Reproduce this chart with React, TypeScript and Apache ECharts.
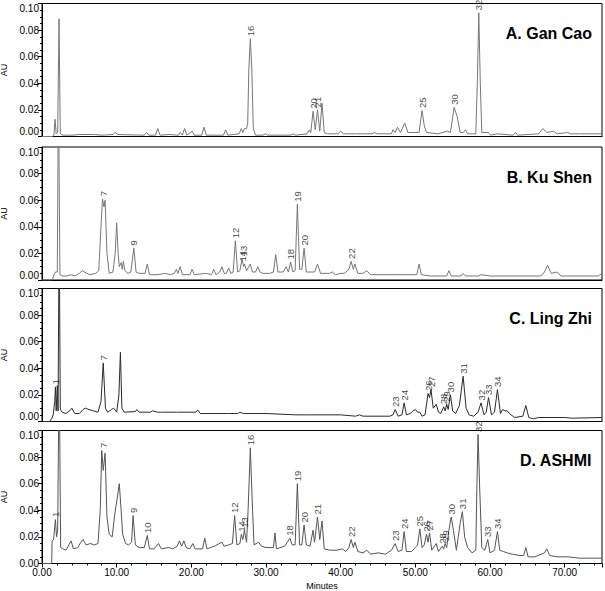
import React, { useEffect, useRef } from "react";
import * as echarts from "echarts";

// ---- Data (time in minutes, absorbance in AU) ----
const traceA: number[][] = [
  [0, 0], [1.4, 0], [1.6, 0.001], [1.75, 0.013], [1.9, 0.002], [2.1, 0.003], [2.28, 0.0885], [2.45, 0.002], [2.8, 0.001], [4, 0.001], [5, 0.0015], [7, 0.0015], [8, 0.001], [9.5, 0.0015], [9.8, 0.003], [10.2, 0.0015],
  [13.7, 0.001], [14.0, 0.003], [14.3, 0.001], [15.2, 0.001], [15.5, 0.006], [15.8, 0.001], [17, 0.0015], [18.3, 0.001], [18.5, 0.003], [18.8, 0.001], [19.1, 0.006], [19.4, 0.001], [20.1, 0.004], [20.4, 0.001],
  [21.4, 0.001], [21.7, 0.007], [22, 0.001], [24.3, 0.001], [24.6, 0.005], [24.9, 0.001], [26.4, 0.002], [26.7, 0.006], [26.9, 0.003], [27.1, 0.006], [27.4, 0.006], [27.55, 0.01], [27.7, 0.05], [27.9, 0.0735], [28.1, 0.05], [28.3, 0.006], [28.6, 0.001],
  [29.6, 0.001], [29.9, 0.002], [30.2, 0.001], [33.3, 0.001], [33.6, 0.002], [34, 0.001], [35.5, 0.002], [35.8, 0.005], [36.0, 0.003], [36.3, 0.019], [36.6, 0.005], [36.9, 0.02], [37.2, 0.004], [37.5, 0.025], [37.8, 0.003], [38.2, 0.002],
  [39, 0.002], [39.7, 0.002], [40.0, 0.004], [40.4, 0.002], [42, 0.002], [44.2, 0.002], [44.5, 0.003], [44.9, 0.002], [46, 0.002], [46.8, 0.002], [47.0, 0.005], [47.3, 0.003], [47.6, 0.007], [48, 0.003], [48.6, 0.01], [49, 0.003], [49.3, 0.003],
  [50.5, 0.003], [50.9, 0.0195], [51.2, 0.008], [51.5, 0.003], [53, 0.002], [54.3, 0.004], [54.7, 0.003], [55.2, 0.022], [55.6, 0.015], [56, 0.003], [56.4, 0.003], [56.7, 0.005], [57.0, 0.002], [58.1, 0.002], [58.3, 0.04], [58.5, 0.093], [58.7, 0.04], [58.9, 0.003],
  [59.8, 0.003], [60.1, 0.001], [61, 0.002], [63.1, 0.001], [63.4, 0.003], [63.7, 0.001], [66.5, 0.002], [67.1, 0.006], [67.6, 0.003], [68.5, 0.004], [69, 0.002], [70.4, 0.003], [70.8, 0.002], [72, 0.002], [75, 0.002]
];

const traceB: number[][] = [
  [0, 0], [1.4, 0], [1.6, 0.004], [1.8, 0.006], [2.05, 0.006], [2.2, 0.15], [2.4, 0.004], [2.7, 0.003], [3.3, 0.003], [3.9, 0.004], [4.4, 0.003], [5.0, 0.005], [5.4, 0.007], [6.0, 0.005], [6.4, 0.004], [7.2, 0.005], [7.6, 0.007],
  [7.9, 0.04], [8.1, 0.061], [8.3, 0.055], [8.45, 0.06], [8.7, 0.02], [9.0, 0.005], [9.5, 0.006], [9.8, 0.02], [10.0, 0.043], [10.2, 0.02], [10.35, 0.01], [10.6, 0.013], [10.75, 0.008], [10.9, 0.014], [11.1, 0.007], [11.5, 0.005],
  [11.9, 0.006], [12.3, 0.024], [12.6, 0.006], [13, 0.005], [13.8, 0.005], [14.1, 0.012], [14.4, 0.004], [15.5, 0.004], [16.5, 0.005], [17.2, 0.004], [17.7, 0.005], [18.0, 0.008], [18.2, 0.005], [18.5, 0.01], [18.8, 0.004],
  [19.8, 0.004], [20.1, 0.008], [20.4, 0.004], [22, 0.005], [22.7, 0.004], [23.0, 0.008], [23.3, 0.004], [23.8, 0.006], [24.1, 0.01], [24.4, 0.005], [24.7, 0.005], [25.0, 0.009], [25.3, 0.005], [25.6, 0.006], [25.9, 0.0295], [26.2, 0.006],
  [26.5, 0.007], [26.8, 0.016], [27.0, 0.01], [27.1, 0.012], [27.4, 0.007], [27.9, 0.012], [28.2, 0.006], [28.6, 0.006], [28.9, 0.01], [29.2, 0.006], [29.6, 0.005], [30.5, 0.005], [31.0, 0.006], [31.3, 0.019], [31.6, 0.006],
  [32.3, 0.006], [32.7, 0.01], [33.0, 0.006], [33.3, 0.0135], [33.6, 0.006], [33.9, 0.007], [34.2, 0.057], [34.5, 0.008], [34.8, 0.008], [35.1, 0.024], [35.4, 0.006], [36.0, 0.006], [36.5, 0.006], [36.9, 0.012], [37.3, 0.005],
  [38.5, 0.005], [38.9, 0.006], [39.3, 0.004], [40, 0.005], [40.5, 0.005], [41.1, 0.008], [41.4, 0.014], [41.7, 0.008], [41.9, 0.012], [42.3, 0.005], [43.0, 0.005], [43.5, 0.007], [44, 0.004], [47, 0.004],
  [50.2, 0.004], [50.5, 0.012], [50.8, 0.004], [52, 0.003], [54.2, 0.003], [54.5, 0.007], [54.8, 0.003], [56.1, 0.003], [56.4, 0.005], [56.7, 0.003], [58.5, 0.003], [58.8, 0.004], [60, 0.003], [62, 0.003],
  [66.8, 0.003], [67.3, 0.006], [67.7, 0.011], [68.2, 0.005], [69.0, 0.006], [69.5, 0.003], [74.5, 0.003], [75, 0.005]
];

const traceC: number[][] = [
  [0, 0], [1.0, 0], [1.3, 0.002], [1.5, 0.005], [1.7, 0.015], [1.8, 0.026], [1.9, 0.008], [2.05, 0.027], [2.15, 0.008], [2.3, 0.15], [2.45, 0.009], [2.7, 0.007], [3.2, 0.006], [3.7, 0.008], [4.0, 0.01], [4.4, 0.006],
  [5.0, 0.006], [5.5, 0.009], [5.8, 0.01], [6.3, 0.009], [6.9, 0.008], [7.5, 0.007], [7.9, 0.015], [8.2, 0.044], [8.5, 0.01], [8.8, 0.007], [9.3, 0.009], [9.6, 0.01], [10.0, 0.007], [10.3, 0.02], [10.5, 0.052], [10.7, 0.01],
  [11, 0.007], [12.5, 0.0075], [12.7, 0.009], [13, 0.007], [14.5, 0.007], [14.8, 0.008], [15.5, 0.007], [16, 0.007], [18, 0.007], [20.6, 0.007], [20.9, 0.0085], [21.2, 0.006], [25, 0.006], [26.2, 0.006], [26.5, 0.007], [27, 0.006],
  [30, 0.006], [34, 0.005], [36, 0.005], [40, 0.005], [42, 0.004], [42.5, 0.005], [43, 0.004], [45, 0.004], [46.6, 0.004], [47.0, 0.005], [47.3, 0.009], [47.7, 0.004], [48.2, 0.005], [48.5, 0.014], [48.8, 0.005],
  [49.3, 0.006], [49.7, 0.008], [50.0, 0.009], [50.3, 0.007], [50.6, 0.007], [50.9, 0.004], [51.3, 0.005], [51.7, 0.021], [51.9, 0.018], [52.1, 0.024], [52.4, 0.01], [52.8, 0.013], [53.1, 0.007], [53.4, 0.006],
  [53.8, 0.011], [54.0, 0.008], [54.2, 0.013], [54.4, 0.009], [54.7, 0.02], [55.0, 0.008], [55.4, 0.006], [55.9, 0.012], [56.4, 0.034], [56.8, 0.01], [57.2, 0.005], [57.8, 0.004], [58.4, 0.007], [58.8, 0.014], [59.2, 0.005],
  [59.5, 0.007], [59.8, 0.018], [60.2, 0.005], [60.6, 0.007], [61.0, 0.024], [61.4, 0.006], [61.7, 0.009], [62.0, 0.008], [62.3, 0.008], [62.6, 0.006], [63.3, 0.003], [64.4, 0.004], [64.8, 0.012], [65.2, 0.003],
  [65.8, 0.002], [66.5, 0.003], [70, 0.003], [71, 0.0025], [75, 0.003]
];

const traceD: number[][] = [
  [0, 0], [1.3, 0], [1.35, 0.017], [1.55, 0.018], [1.8, 0.033], [1.95, 0.02], [2.1, 0.025], [2.3, 0.15], [2.5, 0.012], [2.8, 0.011], [3.2, 0.01], [3.5, 0.013], [3.9, 0.017], [4.2, 0.011], [4.8, 0.012], [5.2, 0.016],
  [5.5, 0.018], [5.9, 0.014], [6.5, 0.015], [7.0, 0.014], [7.5, 0.015], [7.8, 0.04], [8.0, 0.085], [8.2, 0.07], [8.45, 0.083], [8.7, 0.035], [9.0, 0.022], [9.4, 0.02], [9.7, 0.035], [9.9, 0.043], [10.1, 0.05], [10.35, 0.06],
  [10.6, 0.04], [10.8, 0.022], [11.2, 0.015], [11.6, 0.014], [12.0, 0.016], [12.2, 0.036], [12.5, 0.014], [13, 0.012], [13.7, 0.012], [14.1, 0.021], [14.4, 0.011], [15.0, 0.011], [15.6, 0.015], [16, 0.011], [17, 0.012],
  [17.5, 0.011], [18.1, 0.013], [18.4, 0.017], [18.7, 0.013], [19.0, 0.017], [19.3, 0.012], [19.8, 0.011], [20.2, 0.015], [20.5, 0.011], [21.5, 0.011], [21.8, 0.019], [22.1, 0.011], [23.1, 0.013], [24.1, 0.016], [24.4, 0.013],
  [25.0, 0.014], [25.5, 0.015], [25.8, 0.036], [26.1, 0.014], [26.5, 0.015], [26.7, 0.022], [26.9, 0.018], [27.1, 0.025], [27.4, 0.016], [27.6, 0.04], [27.9, 0.087], [28.2, 0.04], [28.4, 0.014], [29.0, 0.016], [29.4, 0.013],
  [30, 0.012], [31.0, 0.012], [31.2, 0.023], [31.4, 0.011], [32.5, 0.013], [33.2, 0.019], [33.5, 0.014], [33.9, 0.014], [34.2, 0.06], [34.5, 0.014], [34.8, 0.014], [35.1, 0.029], [35.4, 0.014], [35.9, 0.013], [36.3, 0.025],
  [36.5, 0.016], [36.9, 0.035], [37.2, 0.018], [37.5, 0.032], [37.8, 0.011], [38.5, 0.01], [39.5, 0.01], [40.2, 0.011], [40.7, 0.009], [41.1, 0.012], [41.4, 0.018], [41.7, 0.012], [41.9, 0.016], [42.3, 0.009], [43, 0.008],
  [43.5, 0.01], [44, 0.007], [45, 0.008], [46, 0.007], [46.8, 0.01], [47.3, 0.015], [47.7, 0.009], [48.2, 0.01], [48.5, 0.024], [48.8, 0.009], [49.5, 0.009], [50.0, 0.012], [50.3, 0.014], [50.6, 0.026], [50.9, 0.012],
  [51.2, 0.014], [51.5, 0.022], [51.7, 0.016], [51.9, 0.023], [52.2, 0.01], [52.8, 0.015], [53.1, 0.009], [53.6, 0.013], [53.8, 0.011], [54.0, 0.015], [54.2, 0.012], [54.5, 0.025], [54.8, 0.035], [55.1, 0.025], [55.5, 0.01],
  [56.0, 0.03], [56.3, 0.039], [56.6, 0.02], [57.0, 0.012], [57.6, 0.008], [58.1, 0.01], [58.25, 0.06], [58.4, 0.097], [58.6, 0.06], [58.9, 0.012], [59.3, 0.01], [59.7, 0.018], [60.0, 0.008], [60.6, 0.01], [61.0, 0.024],
  [61.3, 0.01], [61.8, 0.009], [62.3, 0.008], [63, 0.007], [64, 0.006], [64.5, 0.006], [64.8, 0.012], [65.1, 0.005], [66, 0.005], [67.3, 0.008], [67.6, 0.011], [68, 0.006], [69, 0.005], [70.5, 0.005], [72, 0.004], [75, 0.004]
];

// Peak labels: [name, time, height]
const peaksA: [string, number, number][] = [
  ["16", 27.9, 0.0735], ["20", 36.3, 0.019], ["21", 36.9, 0.02], ["25", 50.9, 0.0195], ["30", 55.2, 0.022], ["32", 58.5, 0.093]
];
const peaksB: [string, number, number][] = [
  ["7", 8.2, 0.061], ["9", 12.3, 0.024], ["12", 25.9, 0.0295], ["14", 26.8, 0.012], ["13", 27.0, 0.016], ["18", 33.3, 0.0135], ["19", 34.2, 0.057], ["20", 35.1, 0.024], ["22", 41.4, 0.014]
];
const peaksC: [string, number, number][] = [
  ["1", 1.8, 0.026], ["7", 8.2, 0.044], ["23", 47.3, 0.009], ["24", 48.5, 0.014], ["26", 51.7, 0.021], ["27", 52.1, 0.024], ["28", 53.8, 0.011], ["29", 54.2, 0.013], ["30", 54.7, 0.02], ["31", 56.4, 0.034], ["32", 58.8, 0.014], ["33", 59.8, 0.018], ["34", 61.0, 0.024]
];
const peaksD: [string, number, number][] = [
  ["1", 1.8, 0.033], ["7", 8.2, 0.085], ["9", 12.2, 0.036], ["10", 14.1, 0.021], ["12", 25.8, 0.036], ["14", 26.7, 0.022], ["13", 27.1, 0.025], ["16", 27.9, 0.087], ["18", 33.2, 0.019], ["19", 34.2, 0.06], ["20", 35.1, 0.029],
  ["21", 36.9, 0.035], ["22", 41.4, 0.018], ["23", 47.3, 0.015], ["24", 48.5, 0.024], ["25", 50.6, 0.026], ["26", 51.5, 0.022], ["27", 51.9, 0.023], ["28", 53.6, 0.013], ["29", 54.0, 0.015], ["30", 54.8, 0.035], ["31", 56.3, 0.039],
  ["32", 58.4, 0.097], ["33", 59.7, 0.018], ["34", 61.0, 0.024]
];

const panelTitles = ["A. Gan Cao", "B. Ku Shen", "C. Ling Zhi", "D. ASHMI"];
const xTicks = { min: 0, max: 75, interval: 10 };
const yTicks = { min: 0, max: 0.1, interval: 0.02 };

const FONT = "Liberation Sans, Arial, sans-serif";

export default function App() {
  const ref = useRef<HTMLDivElement>(null);
  useEffect(() => {
    if (!ref.current) return;
    const chart = echarts.init(ref.current, null, { renderer: "svg" });
    const traces = [traceA, traceB, traceC, traceD];
    const peaks = [peaksA, peaksB, peaksC, peaksD];
    const tops = [3.5, 147, 288.5, 430.5];
    const colors = ["#777777", "#777777", "#2a2a2a", "#555555"];
    const grids = tops.map((t) => ({
      left: 42, right: 3, top: t, height: 133,
      outerBoundsMode: "none", containLabel: false,
      show: true, borderColor: "#000", borderWidth: 1, backgroundColor: "transparent",
    }));
    const xAxes = tops.map((_, i) => ({
      type: "value", gridIndex: i, min: xTicks.min, max: xTicks.max, interval: xTicks.interval,
      axisLine: { show: true, onZero: false, lineStyle: { color: "#000" } },
      axisTick: { show: i === 3, length: 4, lineStyle: { color: "#000" } },
      minorTick: { show: i === 3, splitNumber: 5, length: 2, lineStyle: { color: "#000" } },
      axisLabel: { show: i === 3, color: "#000", fontSize: 10, fontFamily: FONT, margin: 4, formatter: (v: number) => v.toFixed(2), showMaxLabel: false },
      splitLine: { show: false },
      name: i === 3 ? "Minutes" : "", nameLocation: "middle", nameGap: 18,
      nameTextStyle: { color: "#000", fontSize: 9, fontFamily: FONT },
    }));
    const yAxes = tops.map((_, i) => ({
      type: "value", gridIndex: i, min: yTicks.min, max: yTicks.max, interval: yTicks.interval,
      axisLine: { show: true, lineStyle: { color: "#000" } },
      axisTick: { show: true, length: 4, lineStyle: { color: "#000" } },
      minorTick: { show: true, splitNumber: 4, length: 2, lineStyle: { color: "#000" } },
      axisLabel: {
        color: "#000", fontSize: 10, fontFamily: FONT, margin: 3, formatter: (v: number) => v.toFixed(2),
        verticalAlignMinLabel: i < 3 ? "bottom" : "middle",
        verticalAlignMaxLabel: "top",
      },
      splitLine: { show: false },
      name: "AU", nameLocation: "middle", nameGap: 30,
      nameTextStyle: { color: "#000", fontSize: 9, fontFamily: FONT },
    }));
    const series: any[] = [];
    traces.forEach((tr, i) => {
      series.push({
        type: "line", xAxisIndex: i, yAxisIndex: i, data: tr, showSymbol: false, symbol: "none",
        lineStyle: { color: colors[i], width: 1 }, clip: true, silent: true,
      });
      series.push({
        type: "scatter", xAxisIndex: i, yAxisIndex: i, symbolSize: 1, silent: true, z: 5,
        itemStyle: { color: "transparent" },
        data: peaks[i].map(([n, t, h]) => ({ name: n, value: [t, h] })),
        label: {
          show: true, formatter: "{b}", position: "top", distance: 2, rotate: 90,
          align: "left", verticalAlign: "middle", color: "#111", fontSize: 9.5, fontFamily: FONT,
          textBorderWidth: 0, textBorderColor: "transparent",
        },
      });
    });
    chart.setOption({
      animation: false,
      backgroundColor: "#fff",
      grid: grids,
      xAxis: xAxes,
      yAxis: yAxes,
      title: panelTitles.map((t, i) => ({
        text: t, right: 8, top: tops[i] + 17,
        textStyle: { fontSize: 16, fontWeight: "bold", fontFamily: FONT, color: "#000" },
      })),
      series,
    });
    return () => chart.dispose();
  }, []);
  return <div ref={ref} style={{ position: "fixed", left: 0, top: 0, width: 605, height: 591 }} />;
}
